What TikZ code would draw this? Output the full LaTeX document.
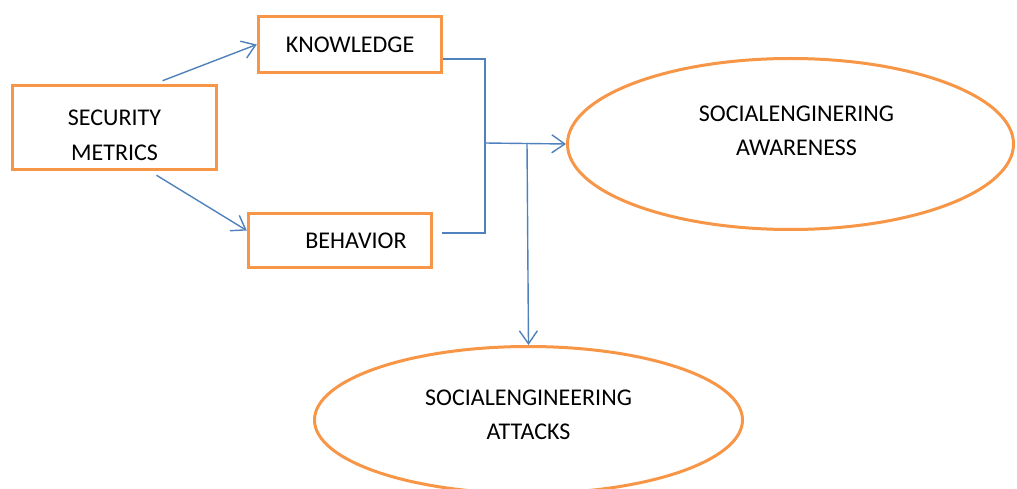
\documentclass[tikz,border=0pt]{standalone}
\usepackage{fontspec}
\setmainfont{Carlito}
\usepackage{tikz}
\usetikzlibrary{shapes,arrows.meta,positioning,calc}

\definecolor{boxorange}{RGB}{247,150,70}
\definecolor{lineblue}{RGB}{79,129,189}

\tikzset{
    box/.style={draw=boxorange, line width=3.5pt, rectangle, align=center},
    oval/.style={draw=boxorange, line width=3pt, ellipse},
    lbl/.style={align=center},
    link/.style={draw=lineblue, line width=1.4pt},
    arr/.style={link, -{Straight Barb[length=13pt,width=18pt]}}
}

\begin{document}
\begin{tikzpicture}[x=1pt, y=-1pt, font=\fontsize{24}{34}\selectfont]
    \useasboundingbox (0,0) rectangle (1017,489);

    \node (metrics) [box, minimum width=204pt, minimum height=84pt] at (114.5,127.5) {\rule{0pt}{31pt}SECURITY\\[1pt]METRICS};
    \node (know) [box, minimum width=183pt, minimum height=56pt] at (350,44.5) {KNOWLEDGE};
    \node (behav) [box, minimum width=183pt, minimum height=54pt] at (340,240.5) {\hspace*{32pt}BEHAVIOR};

    \node (aware) [oval, minimum width=446pt, minimum height=171pt] at (790.5,144) {};
    \node (awaretxt) [lbl] at ([xshift=6pt,yshift=13pt]aware.center) {SOCIALENGINERING\\AWARENESS};
    \node (attack) [oval, minimum width=428pt, minimum height=147pt] at (528.5,420) {};
    \node (attacktxt) [lbl] at ([yshift=5pt]attack.center) {SOCIALENGINEERING\\ATTACKS};

    \coordinate (join) at (485,143);
    \coordinate (split) at (527,143);

    \draw[arr] ([xshift=48pt,yshift=3pt]metrics.north) -- (know.west);
    \draw[arr] ([xshift=42pt,yshift=-4pt]metrics.south) -- ([yshift=10pt]behav.west);

    \draw[link] ([yshift=-14.5pt]know.east) -| (join);
    \draw[link] ([xshift=9pt,yshift=7.5pt]behav.east) -| (join);
    \draw[arr] (join) -- (aware.west);
    \draw[arr] (split) -- (attack.north);

\end{tikzpicture}
\end{document}
